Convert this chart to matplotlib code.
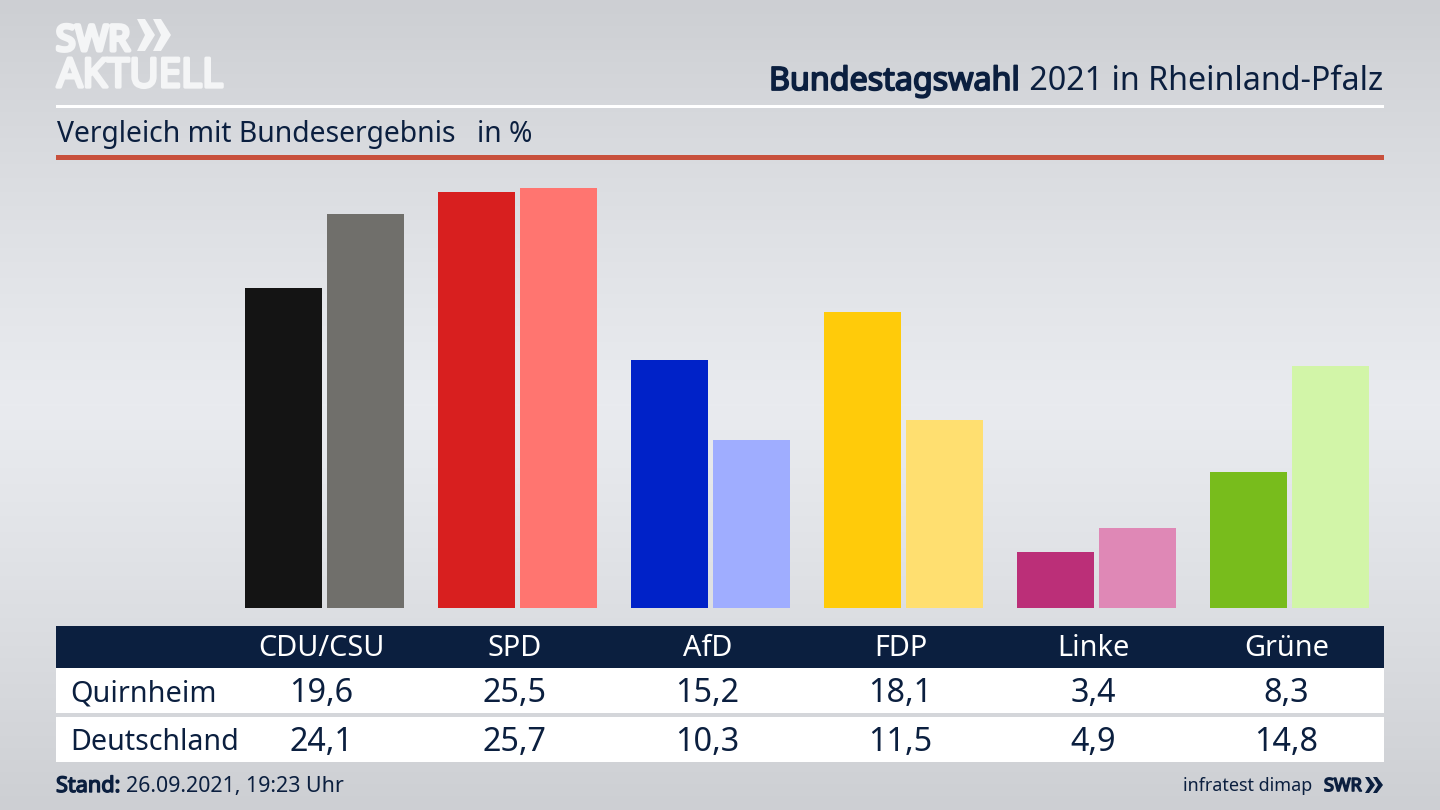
import numpy as np
import matplotlib
matplotlib.use("Agg")
import matplotlib.pyplot as plt
import matplotlib.patheffects as pe
from matplotlib.patches import Rectangle, Polygon

parties = ["CDU/CSU", "SPD", "AfD", "FDP", "Linke", "Grüne"]
quirnheim = [19.6, 25.5, 15.2, 18.1, 3.4, 8.3]
deutschland = [24.1, 25.7, 10.3, 11.5, 4.9, 14.8]
row_names = ["Quirnheim", "Deutschland"]
colors_q = ["#141414", "#d81f1f", "#0022c8", "#ffcb0a", "#bb2f78", "#78bc1c"]
colors_d = ["#706f6b", "#ff7570", "#9fadff", "#ffdf70", "#df88b6", "#d2f5a8"]

W, H = 1440, 810
NAVY = "#0b1f3f"
plt.rcParams['font.family'] = ['Noto Sans', 'DejaVu Sans']
fig = plt.figure(figsize=(W/100, H/100), dpi=100)

bg = fig.add_axes([0, 0, 1, 1])
bg.set_xlim(0, W); bg.set_ylim(H, 0); bg.axis("off")
t = np.abs(np.linspace(-1, 1, 405))[:, None]
grad = 233 - 28*t**1.2
img = np.dstack([grad, grad+2, grad+6]).clip(0, 255)/255
bg.imshow(img, extent=[0, W, H, 0], aspect="auto", zorder=0)

def rect(x0, y0, x1, y1, c):
    bg.add_patch(Rectangle((x0, y0), x1-x0, y1-y0, fc=c, ec="none", zorder=1))

def faux_bold(c, w):
    return [pe.withStroke(linewidth=w, foreground=c)]

rect(56, 104.5, 1384, 107.5, "white")
rect(56, 155, 1384, 160, "#c8503c")
rect(56, 626, 1384, 668, NAVY)
rect(56, 668, 1384, 713, "white")
rect(56, 717, 1384, 762, "white")

# logo
LOGO = "#f4f5f6"
bg.text(56, 50.5, "SWR", color=LOGO, fontsize=25.5, va="baseline", ha="left", family="Open Sans",
        zorder=2, path_effects=faux_bold(LOGO, 3.0))
bg.text(57, 87, "AKTUELL", color=LOGO, fontsize=29, va="baseline", ha="left", family="Open Sans",
        zorder=2, path_effects=faux_bold(LOGO, 2.4))
for x0 in (137, 153):
    bg.add_patch(Polygon([(x0, 19), (x0+8, 19), (x0+18, 35), (x0+8, 51), (x0, 51), (x0+8, 35)], fc=LOGO, ec="none", zorder=2))

# header
bg.text(1383, 90, " 2021 in Rheinland-Pfalz", color=NAVY, fontsize=23.2, ha="right", va="baseline", zorder=2)
bg.text(1020, 90, "Bundestagswahl", color=NAVY, fontsize=23.2, ha="right", va="baseline", zorder=2,
        path_effects=faux_bold(NAVY, 1.3))
bg.text(57, 142, "Vergleich mit Bundesergebnis", color=NAVY, fontsize=20.4, ha="left", va="baseline", zorder=2)
bg.text(477, 142, "in %", color=NAVY, fontsize=20.3, ha="left", va="baseline", zorder=2)

# bars
ax = fig.add_axes([0, (H-608)/H, 1, 420/H])
ax.patch.set_alpha(0)
PX = 193.0
ax.set_xlim(-324.5/PX, (W-324.5)/PX)
ax.set_ylim(0, 420/16.33)
ax.axis("off")
x = np.arange(len(parties))
ax.bar(x-0.2124, quirnheim, width=0.399, color=colors_q)
ax.bar(x+0.2124, deutschland, width=0.399, color=colors_d)

# table
for i, p in enumerate(parties):
    cx = 321.5 + i*PX
    bg.text(cx, 656, p, color="white", fontsize=20.8, ha="center", va="baseline", zorder=2)
    bg.text(cx, 702, f"{quirnheim[i]:.1f}".replace(".", ","), color=NAVY, fontsize=23.3, ha="center", va="baseline", zorder=2)
    bg.text(cx, 751, f"{deutschland[i]:.1f}".replace(".", ","), color=NAVY, fontsize=23.3, ha="center", va="baseline", zorder=2)
bg.text(70, 701, row_names[0], color=NAVY, fontsize=20.8, ha="left", va="baseline", zorder=2)
bg.text(70, 750, row_names[1], color=NAVY, fontsize=20.6, ha="left", va="baseline", zorder=2)

# footer
bg.text(56, 792, "Stand:", color=NAVY, fontsize=15.6, ha="left", va="baseline", zorder=2,
        path_effects=faux_bold(NAVY, 1.0))
bg.text(126, 792, "26.09.2021, 19:23 Uhr", color=NAVY, fontsize=15.4, ha="left", va="baseline", zorder=2)
bg.text(1312, 791, "infratest dimap", color=NAVY, fontsize=12.9, ha="right", va="baseline", zorder=2)
bg.text(1324, 791, "SWR", color=NAVY, fontsize=13, ha="left", va="baseline", family="Open Sans", zorder=2,
        path_effects=faux_bold(NAVY, 1.2))
for x0 in (1365, 1373):
    bg.add_patch(Polygon([(x0, 777), (x0+4, 777), (x0+10, 785), (x0+4, 793), (x0, 793), (x0+5, 785)], fc=NAVY, ec="none", zorder=2))

fig.savefig("out.png", dpi=100)
